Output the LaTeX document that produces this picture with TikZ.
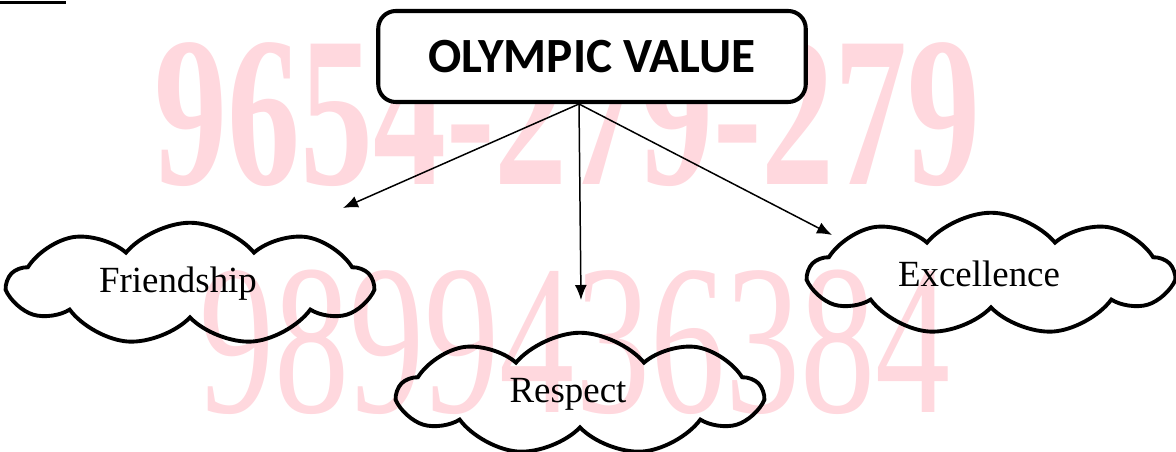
\documentclass[tikz,border=0pt]{standalone}
\usepackage{fontspec}
\setmainfont{Liberation Serif}
\newfontfamily\titlefont{Carlito}
\usetikzlibrary{shapes.symbols,arrows.meta}
\definecolor{wmpink}{RGB}{255,216,222}
\newcommand{\cloudtext}[1]{#1\hspace*{0.48cm}}
\tikzset{
  valuecloud/.style={cloud, draw, line width=2.2pt, cloud puffs=9, cloud puff arc=100,
    cloud ignores aspect, minimum width=7.25cm, minimum height=2.45cm,
    font=\fontsize{21}{24}\selectfont},
  valuearrow/.style={-{Latex[length=3mm,width=2.4mm]}, line width=0.85pt},
  watermark/.style={text=wmpink, inner sep=0pt, font=\fontsize{122}{130}\selectfont}
}
\begin{document}
\begin{tikzpicture}
\useasboundingbox (0,0) rectangle (23.52,9.04);

\node[watermark, xscale=0.68, font=\bfseries\fontsize{122}{130}\selectfont] (wmtop) at (11.35,6.75) {9654-279-279};
\node[watermark, xscale=0.70] (wmbottom) at (11.5,2.2) {9899436384};

\draw[line width=1.7pt] (0,8.98) -- (1.32,8.98);

\node[draw, fill=white, line width=2.3pt, rounded corners=10pt, minimum width=8.55cm, minimum height=1.82cm,
  font=\titlefont\bfseries\fontsize{28}{30}\selectfont] (olympic) at (11.84,7.91) {OLYMPIC VALUE};

\node[valuecloud] (friendship) at (3.8,3.36) {\cloudtext{Friendship}};
\node[valuecloud] (respect) at (11.6,1.16) {\cloudtext{Respect}};
\node[valuecloud] (excellence) at (19.82,3.56) {\cloudtext{Excellence}};

\coordinate (hub) at (11.58,6.96);
\coordinate (tipfriend) at (6.86,4.88);
\coordinate (tiprespect) at (11.62,3.04);
\coordinate (tipexcel) at (16.64,4.34);

\draw[valuearrow] (hub) -- (tipfriend);
\draw[valuearrow] (hub) -- (tiprespect);
\draw[valuearrow] (hub) -- (tipexcel);
\end{tikzpicture}
\end{document}
